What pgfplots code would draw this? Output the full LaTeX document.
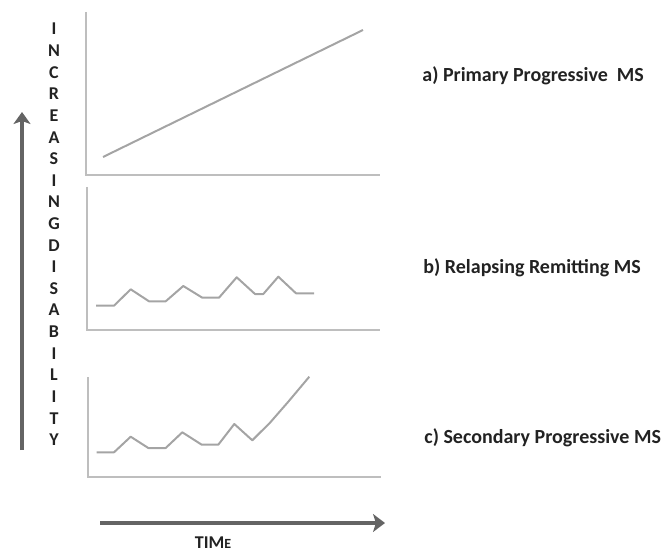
\documentclass[border=0pt]{standalone}
\usepackage{fontspec}
\setmainfont{Carlito}
\usepackage{pgfplots}
\pgfplotsset{compat=1.18}
\usetikzlibrary{arrows.meta}

\definecolor{framegray}{HTML}{BEBEBE}
\definecolor{linegray}{HTML}{A4A4A4}
\definecolor{arrowgray}{HTML}{646464}
\definecolor{txt}{HTML}{222222}

\begin{document}
\begin{tikzpicture}[
    letter/.style   = {txt, font=\fontsize{9}{9}\selectfont\bfseries},
    panellab/.style = {txt, anchor=west, inner sep=0pt, font=\fontsize{10}{10}\selectfont\bfseries}]
\begin{axis}[
    width        = 331pt,
    height       = 275.5pt,
    scale only axis,
    xmin = 0, xmax = 662,
    ymin = 0, ymax = 551,
    y dir        = reverse,
    hide axis,
    clip         = false]

    % page extent
    \addplot[draw=none] coordinates {(0,0) (662,551)};

    % panel frames
    \addplot[framegray, line width=0.8pt] coordinates {(86,12) (86,175) (380,175)};
    \addplot[framegray, line width=0.8pt] coordinates {(87,187) (87,330) (380,330)};
    \addplot[framegray, line width=0.8pt] coordinates {(88,377) (88,477) (381,477)};

    % a) primary progressive
    \addplot[linegray, line width=1pt] coordinates {(103,157) (363,30)};

    % b) relapsing remitting
    \addplot[linegray, line width=1pt, line join=round] coordinates {
        (96,305.7) (114,305.7) (130.7,289.3) (149,301.3) (165.7,301.3)
        (183.3,286) (202.3,297.7) (219,297.7) (236.7,277.3) (255,294)
        (263.3,294) (278.3,276.7) (296,293.3) (314,293.3)
    };

    % c) secondary progressive
    \addplot[linegray, line width=1pt, line join=round] coordinates {
        (96.7,452.3) (114,452.3) (130.7,436.7) (148.3,448) (165.7,448)
        (182.3,432.3) (201.7,444.7) (218.3,444.7) (234.3,424) (252.3,440.3)
        (270,422.7) (288.3,401.7) (309.3,376.7)
    };

    % big arrows
    \addplot[arrowgray, line width=2.1pt,
        -{Stealth[length=6pt, width=8.5pt, inset=1.5pt]}]
        coordinates {(22,450) (22,112)};
    \addplot[arrowgray, line width=2.1pt,
        -{Stealth[length=6pt, width=9pt, inset=1.5pt]}]
        coordinates {(100,523) (385,523)};

    \node[letter] at (axis cs:213,543)
        {TIM{\fontsize{7}{7}\selectfont E}};

    % vertical label
    \node[letter] at (axis cs:54,29.0)  {I};
    \node[letter] at (axis cs:54,50.6)  {N};
    \node[letter] at (axis cs:54,72.3)  {C};
    \node[letter] at (axis cs:54,93.9)  {R};
    \node[letter] at (axis cs:54,115.5) {E};
    \node[letter] at (axis cs:54,137.2) {A};
    \node[letter] at (axis cs:54,158.8) {S};
    \node[letter] at (axis cs:54,180.4) {I};
    \node[letter] at (axis cs:54,202.0) {N};
    \node[letter] at (axis cs:54,223.6) {G};
    \node[letter] at (axis cs:54,245.3) {D};
    \node[letter] at (axis cs:54,266.9) {I};
    \node[letter] at (axis cs:54,288.5) {S};
    \node[letter] at (axis cs:54,310.1) {A};
    \node[letter] at (axis cs:54,331.8) {B};
    \node[letter] at (axis cs:54,353.4) {I};
    \node[letter] at (axis cs:54,375.0) {L};
    \node[letter] at (axis cs:54,396.6) {I};
    \node[letter] at (axis cs:54,418.3) {T};
    \node[letter] at (axis cs:54,439.9) {Y};

    % panel names
    \node[panellab] at (axis cs:422,76)  {a) Primary Progressive\ \ MS};
    \node[panellab] at (axis cs:423,268) {b) Relapsing Remitting MS};
    \node[panellab] at (axis cs:424,438) {c) Secondary Progressive MS};
\end{axis}
\end{tikzpicture}
\end{document}
